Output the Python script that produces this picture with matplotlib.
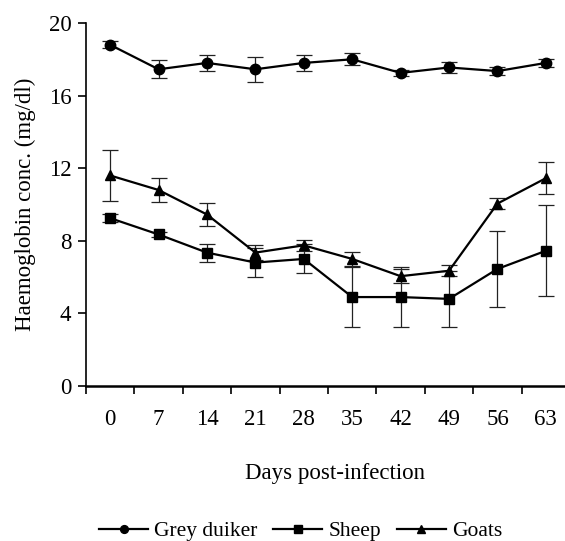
import matplotlib.pyplot as plt
import numpy as np

# datos
days = ['0', '7', '14', '21', '28', '35', '42', '49', '56', '63']

duiker = [18.8, 17.45, 17.8, 17.45, 17.8, 18.0, 17.25, 17.55, 17.35, 17.8]
duiker_err = [0.2, 0.5, 0.45, 0.7, 0.45, 0.32, 0.15, 0.3, 0.2, 0.2]

sheep = [9.25, 8.35, 7.35, 6.8, 7.0, 4.9, 4.9, 4.8, 6.45, 7.45]
sheep_err = [0.2, 0.12, 0.5, 0.8, 0.8, 1.65, 1.65, 1.56, 2.1, 2.5]

goats = [11.6, 10.8, 9.45, 7.35, 7.75, 7.0, 6.05, 6.35, 10.05, 11.45]
goats_err = [1.38, 0.66, 0.66, 0.4, 0.32, 0.4, 0.4, 0.3, 0.3, 0.87]

plt.rcParams['font.family'] = ['Liberation Serif', 'DejaVu Serif']

fig = plt.figure(figsize=(5.65, 5.41), dpi=100)
ax = fig.add_axes([0.152, 0.2865, 0.857, 0.671])

x = np.arange(len(days))
series = [(duiker, duiker_err, 'o', 'Grey duiker'),
          (sheep, sheep_err, 's', 'Sheep'),
          (goats, goats_err, '^', 'Goats')]

handles = []
for vals, err, mk, lab in series:
    ax.errorbar(x, vals, yerr=err, fmt='none', ecolor='#222222',
                elinewidth=0.9, capsize=6, capthick=0.9, zorder=2)
    h, = ax.plot(x, vals, color='black', lw=1.6, marker=mk, ms=7.5,
                 label=lab, zorder=3)
    handles.append(h)

ax.set_xlim(-0.5, 9.5)
ax.set_ylim(0, 20)
ax.set_yticks([0, 4, 8, 12, 16, 20])
ax.set_xticks(x)
ax.set_xticklabels(days)
ax.set_xticks(np.arange(-0.5, 10, 1), minor=True)
ax.tick_params(axis='x', which='major', length=0, pad=16.5, labelsize=16.5)
ax.tick_params(axis='x', which='minor', length=6, width=1.2, direction='out')
ax.tick_params(axis='y', length=6, width=1.2, direction='out', labelsize=16.5, pad=4.5)

for s in ['top', 'right']:
    ax.spines[s].set_visible(False)
ax.spines['left'].set_linewidth(1.2)
ax.spines['bottom'].set_linewidth(1.8)

ax.set_ylabel('Haemoglobin conc. (mg/dl)', fontsize=16.5, labelpad=9)
ax.set_xlabel('Days post-infection', fontsize=16.5, labelpad=23.5)
ax.xaxis.label.set_x(0.515)

fig.legend(handles=handles, loc='center', ncol=3, frameon=False,
           fontsize=15.5, bbox_to_anchor=(0.532, 1 - 531 / 541),
           handlelength=2.27, handletextpad=0.28, columnspacing=0.74,
           markerscale=0.75)

fig.savefig('out.png', dpi=100)
